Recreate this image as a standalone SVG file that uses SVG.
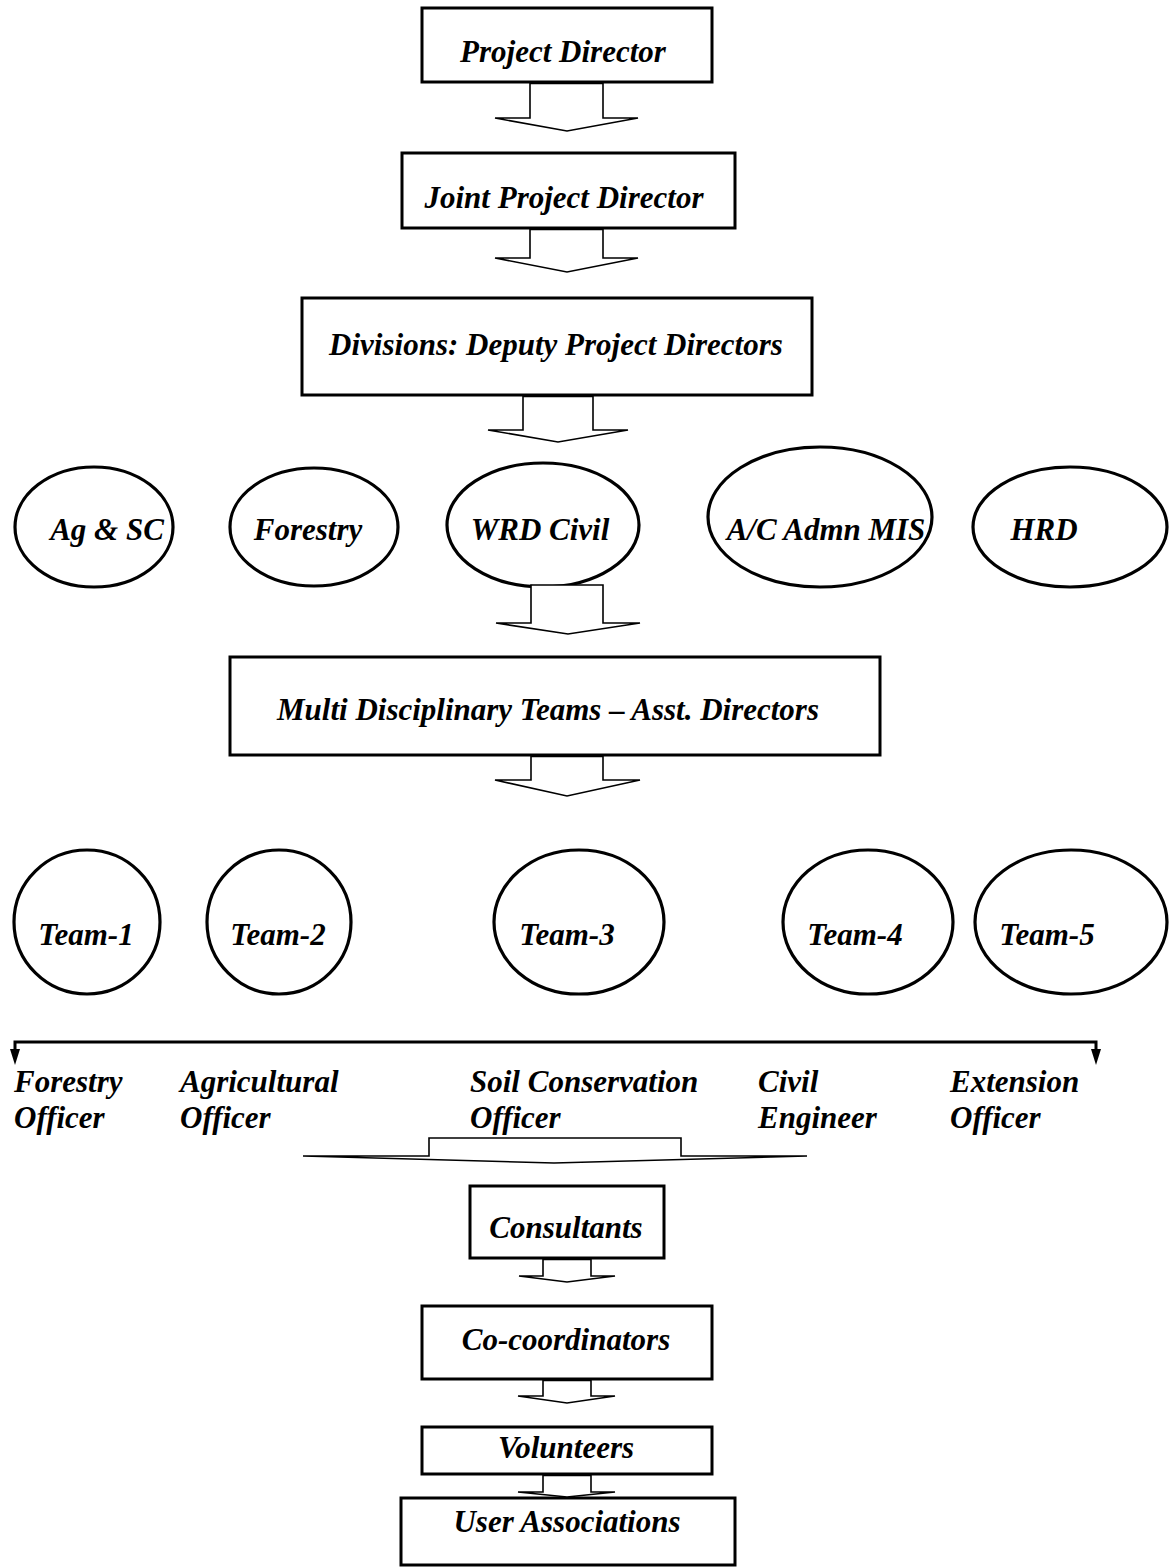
<svg xmlns="http://www.w3.org/2000/svg" width="1169" height="1568" viewBox="0 0 1169 1568">
<style>
.box{fill:#fff;stroke:#000;stroke-width:3}
.ell{fill:#fff;stroke:#000;stroke-width:3.2}
.arr{fill:#fff;stroke:#000;stroke-width:1.6;stroke-linejoin:miter}
.t{font-family:"Liberation Serif","Times New Roman",serif;font-size:31px;font-weight:bold;font-style:italic;fill:#000}
.c{text-anchor:middle}
</style>
<rect width="1169" height="1568" fill="#fff"/>
<g id="project-director"><rect class="box" x="422" y="8" width="290" height="74"/><text class="t c" x="563" y="62">Project Director</text></g>
<g id="joint-project-director"><rect class="box" x="402" y="153" width="333" height="75"/><text class="t c" x="564" y="208">Joint Project Director</text></g>
<g id="divisions"><rect class="box" x="302" y="298" width="510" height="97"/><text class="t c" x="556" y="355">Divisions: Deputy Project Directors</text></g>
<g id="ag-sc"><ellipse class="ell" cx="94" cy="527" rx="79" ry="60"/><text class="t c" x="107" y="540">Ag &amp; SC</text></g>
<g id="forestry"><ellipse class="ell" cx="314" cy="527" rx="84" ry="59"/><text class="t c" x="308" y="540">Forestry</text></g>
<g id="wrd-civil"><ellipse class="ell" cx="543" cy="525" rx="96" ry="62"/><text class="t c" x="540" y="540">WRD Civil</text></g>
<g id="ac-admn-mis"><ellipse class="ell" cx="820" cy="517" rx="112" ry="70"/><text class="t c" x="826" y="540">A/C Admn MIS</text></g>
<g id="hrd"><ellipse class="ell" cx="1070" cy="527" rx="97" ry="60"/><text class="t c" x="1044" y="540">HRD</text></g>
<g id="multi-disciplinary"><rect class="box" x="230" y="657" width="650" height="98"/><text class="t c" x="548" y="720">Multi Disciplinary Teams – Asst. Directors</text></g>
<g id="team-1"><ellipse class="ell" cx="87" cy="922" rx="73" ry="72"/><text class="t c" x="86" y="945">Team-1</text></g>
<g id="team-2"><ellipse class="ell" cx="279" cy="922" rx="72" ry="72"/><text class="t c" x="278" y="945">Team-2</text></g>
<g id="team-3"><ellipse class="ell" cx="579" cy="922" rx="85" ry="72"/><text class="t c" x="567" y="945">Team-3</text></g>
<g id="team-4"><ellipse class="ell" cx="868" cy="922" rx="85" ry="72"/><text class="t c" x="855" y="945">Team-4</text></g>
<g id="team-5"><ellipse class="ell" cx="1071" cy="922" rx="96" ry="72"/><text class="t c" x="1047" y="945">Team-5</text></g>
<g id="forestry-officer"><text class="t" x="14" y="1092">Forestry</text><text class="t" x="14" y="1128">Officer</text></g>
<g id="agricultural-officer"><text class="t" x="180" y="1092">Agricultural</text><text class="t" x="180" y="1128">Officer</text></g>
<g id="soil-conservation-officer"><text class="t" x="470" y="1092">Soil Conservation</text><text class="t" x="470" y="1128">Officer</text></g>
<g id="civil-engineer"><text class="t" x="758" y="1092">Civil</text><text class="t" x="758" y="1128">Engineer</text></g>
<g id="extension-officer"><text class="t" x="950" y="1092">Extension</text><text class="t" x="950" y="1128">Officer</text></g>
<g id="consultants"><rect class="box" x="470" y="1186" width="194" height="72"/><text class="t c" x="566" y="1238">Consultants</text></g>
<g id="co-coordinators"><rect class="box" x="422" y="1306" width="290" height="73"/><text class="t c" x="566" y="1350">Co-coordinators</text></g>
<g id="volunteers"><rect class="box" x="422" y="1427" width="290" height="47"/><text class="t c" x="566" y="1458">Volunteers</text></g>
<g id="user-associations"><rect class="box" x="401" y="1498" width="334" height="67"/><text class="t c" x="567" y="1532">User Associations</text></g>
<g id="connectors">
<polygon class="arr" points="530,83.5 530,118 495,118 567,131 638,118 603,118 603,83.5"/>
<polygon class="arr" points="530,229.5 530,258 495,258 567,272 638,258 603,258 603,229.5"/>
<polygon class="arr" points="523,396.5 523,430 488,430 558,442 628,430 593,430 593,396.5"/>
<polygon class="arr" points="531,585 531,623 496,623 568,634 640,623 603,623 603,585"/>
<polygon class="arr" points="531,756.5 531,780 495,780 567,796 640,780 603,780 603,756.5"/>
<polyline points="15,1050 15,1042 1096,1042 1096,1050" fill="none" stroke="#000" stroke-width="3"/>
<path d="M10,1049 L20,1049 L15,1065 Z" fill="#000"/>
<path d="M1091,1049 L1101,1049 L1096,1065 Z" fill="#000"/>
<polygon class="arr" points="429,1138 429,1156 303,1156 554,1163 807,1156 681,1156 681,1138"/>
<polygon class="arr" points="543,1259.5 543,1276 519,1276 567,1282 615,1276 591,1276 591,1259.5"/>
<polygon class="arr" points="543,1380.5 543,1396 518,1396 567,1403 615,1396 591,1396 591,1380.5"/>
<polygon class="arr" points="543,1475.5 543,1492 518,1492 567,1497 615,1492 591,1492 591,1475.5"/>
</g>
</svg>
